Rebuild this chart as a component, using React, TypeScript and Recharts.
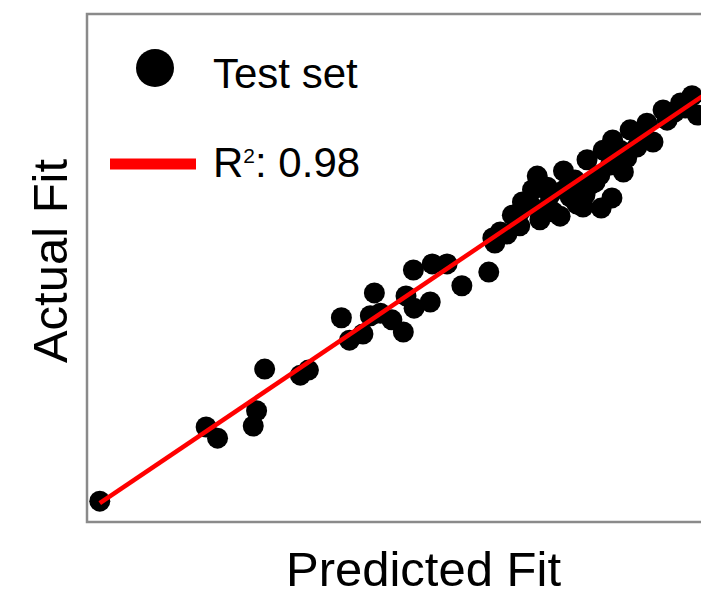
import { ScatterChart, Scatter, XAxis, YAxis, ReferenceArea, Legend } from 'recharts';

const FONT = '"Liberation Sans", Arial, Helvetica, sans-serif';

// predicted (x) vs actual (y), both on a 0-100 scale
const predicted = [
  1.9, 17.7, 19.4, 24.7, 25.2, 26.4, 31.7, 32.9, 37.8, 39.0, 41.0, 42.1, 42.7, 43.6, 45.3,
  47.0, 47.4, 48.6, 48.5, 51.0, 51.3, 53.5, 55.7, 59.7, 60.3, 60.6, 61.4, 62.4, 63.2, 64.3,
  64.3, 64.7, 65.9, 66.2, 66.9, 67.3, 68.4, 68.4, 68.8, 69.3, 70.3, 70.8, 71.0, 71.8, 72.5,
  72.8, 73.7, 74.0, 74.3, 74.7, 75.5, 76.2, 76.4, 76.7, 77.8, 78.0, 78.1, 79.2, 79.7, 80.2,
  80.7, 81.7, 82.2, 83.2, 84.1, 85.6, 86.2, 87.3, 88.2, 88.9, 89.9, 90.7,
];
const actual = [
  4.1, 18.7, 16.5, 18.9, 21.9, 30.1, 28.9, 29.9, 40.2, 35.8, 37.0, 40.6, 45.1, 41.1, 39.8,
  37.4, 44.5, 42.1, 49.6, 43.3, 50.8, 50.8, 46.5, 49.2, 55.9, 54.9, 57.1, 56.7, 60.4, 58.3,
  61.0, 63.0, 62.4, 65.4, 68.1, 59.5, 62.0, 65.9, 64.4, 61.0, 60.2, 69.1, 65.4, 64.0, 67.3,
  62.6, 62.0, 64.4, 71.3, 66.3, 66.9, 68.3, 61.8, 73.2, 70.3, 63.8, 75.2, 73.2, 68.9, 71.7,
  77.2, 73.8, 76.2, 78.5, 74.8, 81.1, 79.1, 80.7, 82.5, 81.5, 83.9, 80.1,
];

// regression line end points
const fitX = [1.9, 97];
const fitY = [3.7, 88.8];

const testSet = predicted.map((x, i) => ({ x, y: actual[i] }));
const fitLine = fitX.map((x, i) => ({ x, y: fitY[i] }));

const Dot = (props: any) => <circle cx={props.cx} cy={props.cy} r={10.5} fill="#000" />;
const NoDot = () => <g />;

const titleStyle = { fontFamily: FONT, fontSize: 49, fill: '#000' };

const LegendBox = () => (
  <svg width={400} height={200} style={{ display: 'block' }}>
    <circle cx={155} cy={68} r={19} fill="#000" />
    <text x={213} y={88} fontFamily={FONT} fontSize={42} fill="#000">Test set</text>
    <rect x={110} y={158.5} width={86} height={11} fill="#ff0000" />
    <text x={213} y={177} fontFamily={FONT} fontSize={42} fill="#000">
      R<tspan fontSize={21} dy={-14}>2</tspan>
      <tspan dy={14}>: 0.98</tspan>
    </text>
  </svg>
);

export default function App() {
  return (
    <div
      style={{
        position: 'absolute',
        left: 0,
        top: 0,
        width: 701,
        height: 595,
        overflow: 'hidden',
        background: '#fff',
      }}
    >
      <ScatterChart width={780} height={595} margin={{ top: 14, right: 20, bottom: 0, left: 0 }}>
        <XAxis
          type="number"
          dataKey="x"
          domain={[0, 100]}
          allowDataOverflow
          tick={false}
          axisLine={false}
          tickLine={false}
          height={73}
          label={{ value: 'Predicted Fit', position: 'insideBottom', offset: 9, style: titleStyle }}
        />
        <YAxis
          type="number"
          dataKey="y"
          domain={[0, 100]}
          allowDataOverflow
          tick={false}
          axisLine={false}
          tickLine={false}
          width={87}
          label={{
            value: 'Actual Fit',
            angle: -90,
            position: 'insideLeft',
            offset: 50,
            dy: -7,
            style: { ...titleStyle, textAnchor: 'middle' },
          }}
        />
        <ReferenceArea x1={0} x2={100} y1={0} y2={100} fill="none" stroke="#8a8a8a" strokeWidth={2.5} fillOpacity={0} />
        <Scatter data={testSet} shape={<Dot />} isAnimationActive={false} />
        <Scatter
          data={fitLine}
          shape={<NoDot />}
          line={{ stroke: '#ff0000', strokeWidth: 4.5 }}
          isAnimationActive={false}
        />
        <Legend
          layout="horizontal"
          verticalAlign="middle"
          align="center"
          content={<LegendBox />}
          wrapperStyle={{ top: 0, left: 0, width: 400, height: 200 }}
        />
      </ScatterChart>
    </div>
  );
}
